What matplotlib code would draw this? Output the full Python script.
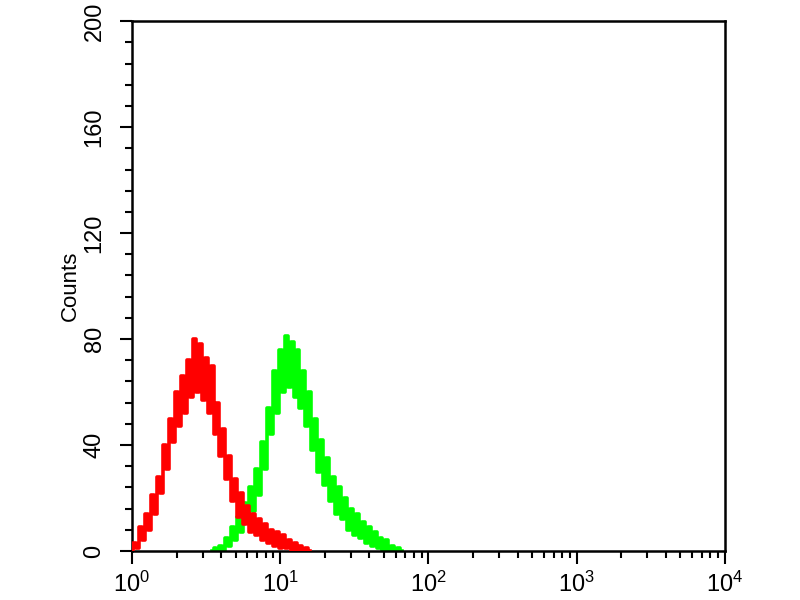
import numpy as np
import matplotlib
matplotlib.use('Agg')
import matplotlib.pyplot as plt
from matplotlib.ticker import MultipleLocator, LogLocator, NullFormatter

plt.rcParams['font.family'] = ['Liberation Sans', 'DejaVu Sans']
plt.rcParams['mathtext.fontset'] = 'custom'
plt.rcParams['mathtext.rm'] = 'Liberation Sans'

# 対照（赤）: log10 の位置 0.00 から 0.02 刻み
red_start = 0.00
red_counts = [0, 3, 1, 9, 4, 14, 8, 21, 14, 28,
              22, 40, 31, 50, 41, 60, 47, 66, 52, 72,
              58, 80, 60, 78, 57, 73, 52, 70, 44, 56,
              36, 46, 27, 36, 19, 27, 13, 22, 10, 17,
              7, 14, 6, 12, 4, 10, 3, 8, 2, 7,
              1, 6, 1, 4, 0, 3, 0, 2, 0, 1, 0]

# 抗体（緑）: log10 の位置 0.54 から 0.02 刻み
green_start = 0.54
green_counts = [0, 1, 0, 2, 0, 5, 2, 9, 4, 13,
                7, 18, 11, 24, 15, 31, 21, 41, 31, 54,
                44, 68, 52, 76, 60, 81, 62, 79, 58, 76,
                54, 68, 47, 60, 38, 50, 30, 42, 25, 35,
                19, 28, 14, 24, 12, 20, 8, 16, 6, 14,
                5, 11, 3, 9, 2, 7, 1, 5, 0, 4,
                0, 2, 0, 1, 0]

step = 0.02
y_ticks = [0, 40, 80, 120, 160, 200]
x_ticks = [1, 10, 100, 1000, 10000]

red_x = 10 ** (red_start + step * np.arange(len(red_counts)))
green_x = 10 ** (green_start + step * np.arange(len(green_counts)))

fig = plt.figure(figsize=(8, 6), dpi=100)
ax = fig.add_axes([0.165, 0.0817, 0.741, 0.883])

ax.step(green_x, green_counts, where='mid', color='#00ff00', lw=2.6, zorder=2)
ax.step(red_x, red_counts, where='mid', color='#ff0000', lw=2.6, zorder=3)

ax.set_xscale('log')
ax.set_xlim(1, 10000)
ax.set_ylim(0, 200)

ax.set_yticks(y_ticks)
ax.set_yticklabels([str(v) for v in y_ticks], rotation=90, va='center')
ax.yaxis.set_minor_locator(MultipleLocator(8))
ax.set_xticks(x_ticks)
ax.set_xticklabels([r'$\mathdefault{10^{%d}}$' % i for i in range(5)])
ax.xaxis.set_minor_locator(LogLocator(base=10, subs=np.arange(2, 10)))
ax.xaxis.set_minor_formatter(NullFormatter())

ax.tick_params(which='major', direction='out', length=9, width=1.5, labelsize=17, pad=6)
ax.tick_params(which='minor', direction='out', length=5, width=1.5)
ax.tick_params(axis='y', pad=10)

for s in ax.spines.values():
    s.set_linewidth(1.8)

ax.set_ylabel('Counts', fontsize=16, labelpad=2)

fig.savefig('out.png', dpi=100)
